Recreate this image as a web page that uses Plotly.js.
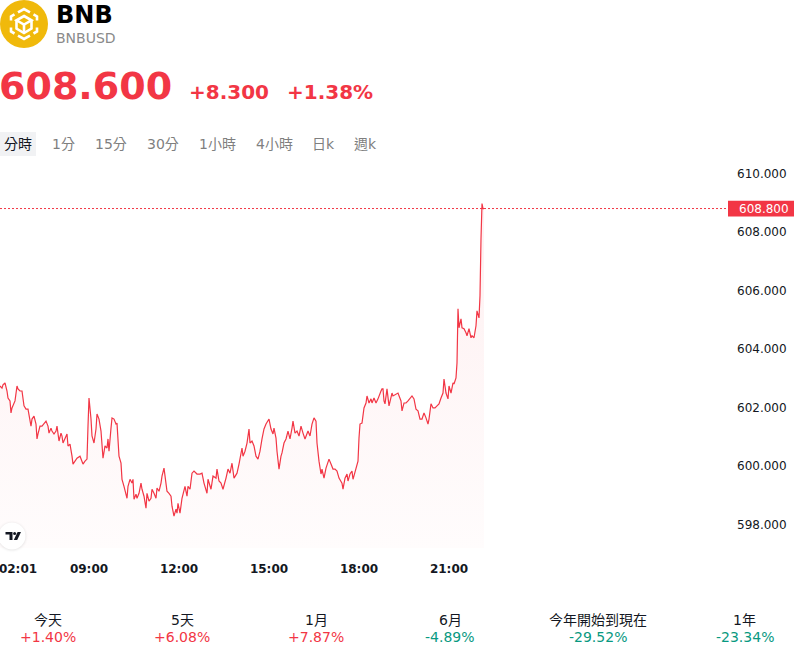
<!DOCTYPE html>
<html>
<head>
<meta charset="utf-8">
<script src="https://cdn.plot.ly/plotly-3.0.1.min.js"></script>
<style>
  html, body { margin: 0; padding: 0; background: #ffffff; }
  #chart { width: 800px; height: 658px; }
</style>
</head>
<body>
<div id="chart"></div>
<script>
// ---------- data ----------
const symbolName = "BNB";
const symbolCode = "BNBUSD";
const lastPrice = "608.600";
const change = "+8.300";
const changePct = "+1.38%";
const tabs = ["分時", "1分", "15分", "30分", "1小時", "4小時", "日k", "週k"];
const markerPrice = 608.8;

// minutes of the day (intraday, ~2 minutes apart)
const minutes = [
  362,366,368,372,376,378,382,384,386,390,
  392,396,398,402,406,410,414,418,420,424,
  426,430,434,436,438,442,446,450,454,458,
  460,464,466,470,474,476,480,484,486,488,
  492,496,498,502,506,508,512,516,522,526,
  528,532,536,538,540,544,546,550,554,556,
  560,564,566,568,572,576,578,580,584,586,
  590,594,596,600,604,606,610,614,616,618,
  622,626,628,630,634,636,640,644,646,650,
  654,656,660,664,666,670,674,676,680,684,
  686,690,694,696,700,704,706,710,714,716,
  718,722,726,728,732,736,738,742,746,750,
  756,762,766,770,776,778,784,788,794,796,
  800,804,808,814,818,822,826,830,836,840,
  846,848,852,856,860,862,866,870,874,878,
  882,886,890,894,898,900,904,908,910,914,
  916,920,924,926,930,934,938,942,946,948,
  952,956,960,964,968,972,978,982,986,990,
  994,996,1000,1004,1006,1010,1014,1018,1020,1024,
  1028,1032,1036,1040,1046,1048,1052,1056,1058,1062,
  1066,1068,1074,1078,1080,1082,1086,1090,1094,1096,
  1100,1104,1106,1110,1114,1118,1124,1126,1128,1130,
  1132,1136,1140,1146,1148,1154,1158,1164,1166,1170,
  1174,1178,1182,1186,1190,1194,1198,1202,1206,1210,
  1214,1218,1220,1224,1228,1232,1236,1240,1244,1248,
  1250,1254,1258,1260,1264,1268,1270,1274,1276,1278,
  1280,1284,1286,1290,1294,1296,1300,1304,1306,1310,
  1314,1316,1320,1322,1324,1326,1328,1330
];
const prices = [
  602.73,602.66,602.77,602.84,602.56,602.32,602.22,601.81,601.98,602.12,
  602.22,602.73,602.63,602.56,602.56,602.05,601.94,601.94,601.70,601.36,
  601.60,601.70,601.43,600.92,601.09,601.36,601.36,601.46,601.53,601.36,
  601.12,601.29,601.19,601.09,601.19,601.36,600.85,601.12,601.02,600.78,
  600.95,601.09,600.68,600.74,600.33,600.06,600.16,600.26,600.33,600.16,
  600.06,600.16,600.23,601.36,602.32,601.60,601.02,600.78,601.26,601.77,
  601.60,601.19,600.78,600.26,600.68,600.61,600.92,600.50,601.29,601.64,
  601.60,601.43,601.46,600.33,600.09,599.54,599.30,599.06,598.89,599.30,
  599.54,599.41,599.54,598.86,599.03,598.89,599.06,599.41,599.20,598.96,
  598.55,599.06,598.79,598.89,599.20,599.06,598.89,599.24,599.13,599.41,
  599.65,599.92,599.41,599.13,599.06,598.96,598.62,598.28,598.52,598.38,
  598.72,598.38,598.89,599.06,599.30,598.96,599.30,599.20,599.75,599.82,
  599.72,599.72,599.75,599.41,599.06,599.54,599.20,599.65,599.58,599.89,
  599.48,599.41,599.20,599.58,599.89,599.75,600.09,599.58,599.75,600.06,
  600.61,600.33,600.50,600.78,601.26,600.78,600.85,600.68,600.33,600.23,
  600.50,600.92,601.26,601.43,601.53,601.60,601.26,601.09,601.29,600.95,
  600.50,599.89,600.33,600.44,600.78,600.92,601.19,600.92,601.29,601.53,
  601.12,601.19,601.02,601.36,601.12,600.92,601.19,601.02,601.43,601.64,
  601.53,600.78,600.16,599.72,599.89,599.58,599.92,600.16,600.23,600.06,
  599.89,599.89,599.82,599.58,599.41,599.20,599.58,599.72,599.48,599.72,
  599.82,599.54,599.92,600.16,600.95,601.43,601.46,601.98,602.15,602.39,
  602.15,602.29,602.15,602.32,602.15,602.29,602.56,602.63,602.63,602.22,
  602.12,602.63,602.05,602.49,602.39,602.46,602.49,602.22,601.88,602.15,
  602.15,602.22,602.29,602.39,602.29,601.94,601.88,601.60,601.60,601.81,
  601.64,601.43,601.60,602.12,601.98,601.98,602.05,602.12,602.32,602.49,
  602.97,602.49,602.29,602.73,602.49,602.84,602.80,603.01,603.52,605.37,
  604.72,605.03,604.72,604.69,604.55,604.45,604.69,604.38,604.45,604.38,
  604.79,605.30,605.06,605.82,607.77,608.97,608.80,608.80
];

const xTickMinutes = [398, 540, 720, 900, 1080, 1260];
const xTickLabels = ["02:01", "09:00", "12:00", "15:00", "18:00", "21:00"];
const yTickValues = [598, 600, 602, 604, 606, 608, 610];
const yTickLabels = ["598.000", "600.000", "602.000", "604.000", "606.000", "608.000", "610.000"];

const periodLabels = ["今天", "5天", "1月", "6月", "今年開始到現在", "1年"];
const periodValues = ["+1.40%", "+6.08%", "+7.87%", "-4.89%", "-29.52%", "-23.34%"];

// ---------- layout helpers ----------
const W = 800, H = 658;
const M = { l: 0, r: 72, t: 160, b: 110 };
const PW = W - M.l - M.r, PH = H - M.t - M.b;
const px = X => (X - M.l) / PW;
const py = Y => (M.t + PH - Y) / PH;
const yMin = 597.19, yMax = 610.46;
const xMin = 362, xMax = 362 + 2 * PW;

const RED = "#F23645", GREEN = "#089981", DARK = "#131722", GRAY = "#7f7f7f";
const FONT = "DejaVu Sans, 'Noto Sans CJK TC', sans-serif";

const trace = {
  type: "scatter",
  mode: "lines",
  x: minutes,
  y: prices,
  line: { color: RED, width: 1.2 },
  fill: "tozeroy",
  fillgradient: {
    type: "vertical",
    start: yMin,
    stop: 609,
    colorscale: [[0, "rgba(242,54,69,0.015)"], [1, "rgba(242,54,69,0.075)"]]
  },
  hoverinfo: "skip"
};

const ann = [];
function text(t, X, Y, opts) {
  ann.push(Object.assign({
    text: t, xref: "paper", yref: "paper", x: px(X), y: py(Y),
    xanchor: "left", yanchor: "middle", showarrow: false,
    font: { family: FONT, size: 14, color: DARK }
  }, opts || {}));
}

text(symbolName, 56, 15, { font: { family: FONT, size: 24, color: "#000", weight: "bold" }, xshift: -2 });
text(symbolCode, 56, 38, { font: { family: FONT, size: 14, color: "#8a8a8a" }, xshift: -2 });
text(lastPrice, 0, 86, { font: { family: FONT, size: 38, color: RED, weight: "bold" }, xshift: -3 });
text(change, 190, 92, { font: { family: FONT, size: 20, color: RED, weight: "bold" }, xshift: -3 });
text(changePct, 288, 92, { font: { family: FONT, size: 20, color: RED, weight: "bold" }, xshift: -3 });

const tabX = [18, 63, 111, 163, 217, 274, 323, 365];
tabs.forEach((t, i) => {
  text(t, tabX[i], 144, { xanchor: "center", font: { family: FONT, size: 14, color: i === 0 ? DARK : GRAY } });
});

const colX = [48, 182, 316, 450, 598, 745];
periodLabels.forEach((t, i) => {
  text(t, colX[i], 620, { xanchor: "center", font: { family: FONT, size: 14, color: DARK } });
  const v = periodValues[i];
  text(v, colX[i], 637, { xanchor: "center", font: { family: FONT, size: 14, color: v.startsWith("-") ? GREEN : RED } });
});

// price label on the right axis
ann.push({
  text: markerPrice.toFixed(3), xref: "paper", yref: "y", x: px(738), y: markerPrice,
  xanchor: "left", yanchor: "middle", showarrow: false,
  font: { family: FONT, size: 12, color: "#ffffff" }, xshift: -1
});

const shapes = [
  { type: "rect", xref: "paper", yref: "paper", x0: px(0), x1: px(36), y0: py(156), y1: py(132),
    fillcolor: "#f1f2f4", line: { width: 0 }, layer: "below" },
  { type: "line", xref: "paper", yref: "y", x0: 0, x1: 1, y0: markerPrice, y1: markerPrice,
    line: { color: RED, width: 1, dash: "2px,2px" } },
  { type: "rect", xref: "paper", yref: "y", x0: px(728), x1: px(794),
    y0: markerPrice - 0.27, y1: markerPrice + 0.27, fillcolor: RED, line: { width: 0 } }
];

const logoSvg = "<svg xmlns='http://www.w3.org/2000/svg' width='48' height='48' viewBox='0 0 48 48'>" +
  "<circle cx='24' cy='24' r='24' fill='#F0B90B'/>" +
  "<g fill='none' stroke='#ffffff' stroke-width='2.6' stroke-linejoin='miter' stroke-linecap='butt'>" +
  "<polyline points='18,12.4 24,9 30,12.4'/>" +
  "<polyline points='33.5,14.4 37,16.4 37,20.5'/>" +
  "<polyline points='37,27.5 37,31.5 33.5,33.5'/>" +
  "<polyline points='30,35.6 24,39 18,35.6'/>" +
  "<polyline points='14.5,33.5 11,31.5 11,27.5'/>" +
  "<polyline points='11,20.5 11,16.4 14.5,14.4'/>" +
  "<polygon points='24,16 31.5,20.3 24,24.6 16.5,20.3'/>" +
  "<polyline points='16.5,20.3 16.5,28.6 24,33 31.5,28.6 31.5,20.3'/>" +
  "<line x1='24' y1='24.6' x2='24' y2='33'/>" +
  "</g></svg>";

const tvSvg = "<svg xmlns='http://www.w3.org/2000/svg' width='36' height='36' viewBox='0 0 36 36'>" +
  "<defs><filter id='s' x='-50%' y='-50%' width='200%' height='200%'><feGaussianBlur stdDeviation='1.6'/></filter></defs>" +
  "<circle cx='18' cy='18.5' r='13.5' fill='#000000' opacity='0.13' filter='url(#s)'/>" +
  "<circle cx='18' cy='18' r='13.5' fill='#ffffff'/>" +
  "<path d='M11.5 14h7v8h-3v-5.4h-4z' fill='#131722'/>" +
  "<circle cx='20.6' cy='15.4' r='1.5' fill='#131722'/>" +
  "<path d='M23.6 14h3.4l-3.8 8h-3.4z' fill='#131722'/>" +
  "</svg>";

const svgUri = s => "data:image/svg+xml;charset=utf-8," + encodeURIComponent(s);

const images = [
  { source: svgUri(logoSvg), xref: "paper", yref: "paper", x: px(0), y: py(0),
    sizex: 48 / PW, sizey: 48 / PH, xanchor: "left", yanchor: "top", sizing: "stretch", layer: "above" },
  { source: svgUri(tvSvg), xref: "paper", yref: "paper", x: px(-6), y: py(518),
    sizex: 36 / PW, sizey: 36 / PH, xanchor: "left", yanchor: "top", sizing: "stretch", layer: "above" }
];

const layout = {
  width: W, height: H,
  margin: { l: M.l, r: M.r, t: M.t, b: M.b, pad: 0 },
  paper_bgcolor: "#ffffff",
  plot_bgcolor: "#ffffff",
  showlegend: false,
  hovermode: false,
  xaxis: {
    range: [xMin, xMax],
    tickvals: xTickMinutes, ticktext: xTickLabels,
    showgrid: false, zeroline: false, showline: false, ticks: "",
    ticklabelstandoff: 12,
    ticklabeloverflow: "allow",
    tickfont: { family: FONT, size: 12, color: DARK, weight: "bold" },
    fixedrange: true
  },
  yaxis: {
    side: "right",
    range: [yMin, yMax],
    tickvals: yTickValues, ticktext: yTickLabels,
    showgrid: false, zeroline: false, showline: false, ticks: "",
    ticklabelstandoff: 8,
    tickfont: { family: FONT, size: 12, color: DARK },
    fixedrange: true
  },
  annotations: ann,
  shapes: shapes,
  images: images
};

Plotly.newPlot("chart", [trace], layout, { displayModeBar: false, staticPlot: true });
</script>
</body>
</html>
